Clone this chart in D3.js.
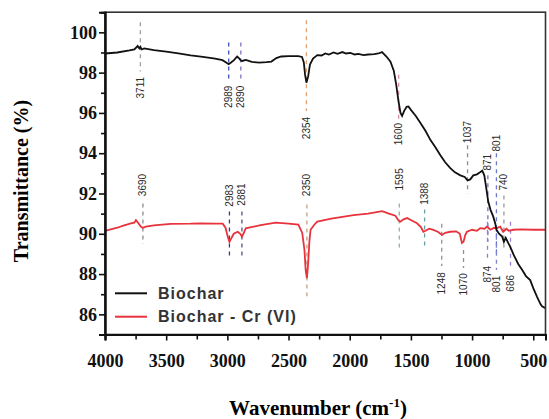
<!DOCTYPE html>
<html>
<head>
<meta charset="utf-8">
<script src="https://cdn.jsdelivr.net/npm/d3@7"></script>
<style>
  body { margin: 0; background: #fff; }
  svg { display: block; }
</style>
</head>
<body>
<script>
// FTIR spectra, wavenumber (cm-1) vs transmittance (%)
const biochar = [
  [4000, 98.95], [3900, 99.0], [3800, 99.1], [3760, 99.15], [3733, 99.32], [3720, 99.2],
  [3711, 99.28], [3700, 99.15], [3680, 99.2], [3600, 99.12], [3500, 99.04], [3400, 98.96],
  [3300, 98.86], [3200, 98.78], [3100, 98.7], [3040, 98.62], [3010, 98.5], [2989, 98.42],
  [2970, 98.5], [2946, 98.62], [2920, 98.8], [2900, 98.68], [2890, 98.6], [2878, 98.58],
  [2850, 98.63], [2800, 98.53], [2740, 98.5], [2680, 98.52], [2640, 98.55], [2600, 98.72],
  [2560, 98.8], [2500, 98.82], [2420, 98.82], [2390, 98.78], [2375, 98.5], [2365, 97.9],
  [2354, 97.5], [2340, 97.8], [2325, 98.4], [2300, 98.7], [2265, 98.87], [2230, 98.85],
  [2200, 98.95], [2170, 98.9], [2132, 99.0], [2100, 98.93], [2060, 99.02], [2030, 98.95],
  [1994, 98.98], [1960, 98.9], [1930, 98.93], [1887, 98.87], [1850, 98.9], [1800, 98.92],
  [1765, 98.95], [1736, 99.02], [1700, 98.8], [1667, 98.54], [1640, 98.1], [1620, 97.4],
  [1602, 96.6], [1585, 96.0], [1572, 95.85], [1555, 96.1], [1535, 96.3], [1520, 96.32],
  [1500, 96.15], [1460, 95.85], [1422, 95.5], [1380, 95.1], [1340, 94.65], [1300, 94.3],
  [1259, 93.9], [1220, 93.55], [1178, 93.26], [1140, 93.05], [1096, 92.9], [1060, 92.82],
  [1037, 92.65], [1015, 92.7], [990, 92.9], [960, 92.95], [935, 93.05], [917, 93.13],
  [900, 92.9], [885, 92.3], [868, 91.6], [850, 91.2], [827, 90.85], [810, 90.5],
  [801, 90.2], [780, 90.0], [754, 89.86], [740, 89.6], [725, 89.8], [705, 89.55],
  [689, 89.36], [660, 88.95], [623, 88.5], [590, 88.2], [560, 87.9], [525, 87.7],
  [500, 87.3], [468, 86.86], [440, 86.5], [428, 86.4], [400, 86.3]
];

const biocharCr = [
  [4000, 90.15], [3900, 90.3], [3850, 90.4], [3788, 90.52], [3760, 90.55], [3747, 90.68],
  [3730, 90.55], [3706, 90.35], [3690, 90.3], [3666, 90.35], [3600, 90.42], [3462, 90.49],
  [3300, 90.5], [3217, 90.52], [3100, 90.5], [3038, 90.5], [3015, 90.3], [2997, 89.86],
  [2983, 89.6], [2970, 89.75], [2948, 90.0], [2915, 90.1], [2895, 90.0], [2881, 89.86],
  [2865, 90.05], [2850, 90.27], [2728, 90.43], [2605, 90.55], [2500, 90.5], [2420, 90.45],
  [2388, 90.04], [2370, 89.2], [2360, 88.2], [2350, 87.8], [2340, 88.5], [2330, 89.6],
  [2320, 90.2], [2290, 90.45], [2265, 90.6], [2150, 90.75], [1969, 90.93], [1850, 91.0],
  [1780, 91.08], [1735, 91.12], [1680, 91.0], [1627, 90.9], [1600, 90.65], [1586, 90.6],
  [1560, 90.72], [1531, 90.78], [1490, 90.65], [1450, 90.52], [1420, 90.35], [1398, 90.1],
  [1380, 90.15], [1350, 90.25], [1317, 90.19], [1280, 90.1], [1246, 89.94], [1220, 90.05],
  [1178, 90.1], [1130, 90.12], [1100, 90.0], [1083, 89.54], [1070, 89.6], [1055, 89.95],
  [1042, 90.1], [1000, 90.2], [960, 90.15], [933, 90.28], [900, 90.25], [878, 90.35],
  [850, 90.2], [820, 90.3], [797, 90.28], [770, 90.35], [746, 90.1], [720, 90.25],
  [700, 90.15], [664, 90.2], [600, 90.22], [500, 90.2], [400, 90.2]
];

const seriesNames = ['Biochar', 'Biochar - Cr (VI)'];
const xTicks = [4000, 3500, 3000, 2500, 2000, 1500, 1000, 500];
const yTicks = [86, 88, 90, 92, 94, 96, 98, 100];

// peak markers: wavenumber, label level, dashed span (all in data units)
const biocharPeaks = [3711, 2989, 2890, 2354, 1600, 1037, 871, 801, 740];
const biocharLabelAt = [97.25, 96.8, 96.8, 95.25, 94.95, 95.05, 93.55, 94.5, 92.56];
const biocharDash = [[100.5, 98.05], [99.5, 97.6], [99.5, 97.6], [100.6, 96.1], [97.9, 95.7],
  [94.4, 92.0], [92.9, 89.6], [94.0, 89.0], [91.9, 89.3]];

const crPeaks = [3690, 2983, 2881, 2350, 1595, 1388, 1248, 1070, 874, 801, 686];
const crLabelAt = [92.42, 91.9, 91.95, 92.42, 92.7, 91.99, 87.54, 87.49, 87.99, 87.5, 87.54];
const crDash = [[91.5, 89.5], [91.1, 88.9], [91.1, 88.9], [91.45, 86.9], [91.5, 89.3],
  [91.2, 89.3], [90.5, 88.4], [89.2, 88.3], [90.6, 88.65], [90.3, 88.2], [90.6, 88.3]];

const width = 549, height = 419;
const margin = { left: 105, right: 3.5, top: 12.2, bottom: 84.5 };

const svg = d3.select('body').append('svg')
  .attr('width', width)
  .attr('height', height);

const x = d3.scaleLinear().domain([4000, 400]).range([margin.left, width - margin.right]);
const y = d3.scaleLinear().domain([85, 101]).range([height - margin.bottom, margin.top]);

const dashColorsTop = ['#9aa59a', '#4050b0', '#8a70c0', '#e0a070', '#d890a8', '#8c8c8c', '#7070c8', '#6a78d0', '#9a9a9a'];
const dashColorsBottom = ['#8c8c8c', '#30408a', '#505a80', '#c0a080', '#90b0a0', '#6aa0a0', '#909090', '#909090', '#9080d0', '#8080d0', '#a080d0'];

function drawPeaks(peaks, levels, dashes, colors) {
  const g = svg.append('g');
  peaks.forEach((wn, i) => {
    g.append('line')
      .attr('x1', x(wn)).attr('x2', x(wn))
      .attr('y1', y(dashes[i][0])).attr('y2', y(dashes[i][1]))
      .attr('stroke', colors[i])
      .attr('stroke-width', 1.3)
      .attr('stroke-dasharray', '4,4');
    g.append('text')
      .attr('transform', `translate(${x(wn) + 3.5},${y(levels[i])}) rotate(-90)`)
      .attr('text-anchor', 'middle')
      .style('font-family', 'Liberation Sans, Arial, sans-serif')
      .style('font-size', '10px')
      .style('fill', '#2a2a2a')
      .text(wn);
  });
}

drawPeaks(biocharPeaks, biocharLabelAt, biocharDash, dashColorsTop);
drawPeaks(crPeaks, crLabelAt, crDash, dashColorsBottom);

const line = d3.line().x(d => x(d[0])).y(d => y(d[1]));

svg.append('path').datum(biocharCr)
  .attr('d', line)
  .attr('fill', 'none')
  .attr('stroke', '#e8323c')
  .attr('stroke-width', 1.8);

svg.append('path').datum(biochar)
  .attr('d', line)
  .attr('fill', 'none')
  .attr('stroke', '#111')
  .attr('stroke-width', 1.8);

// frame
svg.append('rect')
  .attr('x', margin.left).attr('y', margin.top)
  .attr('width', width - margin.right - margin.left)
  .attr('height', height - margin.bottom - margin.top)
  .attr('fill', 'none')
  .attr('stroke', '#333')
  .attr('stroke-width', 1.6);

// minor ticks
const xAxisMinor = d3.axisBottom(x).tickValues(d3.range(3750, 400, -500)).tickSize(5).tickFormat('');
const yAxisMinor = d3.axisLeft(y).tickValues(d3.range(85, 101, 2)).tickSize(4).tickFormat('');
svg.append('g').attr('transform', `translate(0,${height - margin.bottom})`).call(xAxisMinor);
svg.append('g').attr('transform', `translate(${margin.left},0)`).call(yAxisMinor);

const xAxis = d3.axisBottom(x).tickValues(xTicks).tickSize(6).tickPadding(2).tickFormat(d3.format('d'));
const yAxis = d3.axisLeft(y).tickValues(yTicks).tickSize(6).tickPadding(2).tickFormat(d3.format('d'));

const gx = svg.append('g')
  .attr('class', 'axis')
  .attr('transform', `translate(0,${height - margin.bottom})`)
  .call(xAxis);
gx.selectAll('text').attr('y', 32.5).attr('dy', 0);

const gy = svg.append('g')
  .attr('class', 'axis')
  .attr('transform', `translate(${margin.left},0)`)
  .call(yAxis);

svg.selectAll('.domain').attr('stroke', '#111').attr('stroke-width', 2);
svg.selectAll('.tick line').attr('stroke', '#111').attr('stroke-width', 1.6);
svg.selectAll('.axis text')
  .style('font-family', 'Liberation Serif, Times New Roman, serif')
  .style('font-weight', 'bold')
  .style('font-size', '18px')
  .style('fill', '#111');

// axis titles
svg.append('text')
  .attr('transform', `translate(28,181) rotate(-90)`)
  .attr('text-anchor', 'middle')
  .style('font-family', 'Liberation Serif, Times New Roman, serif')
  .style('font-weight', 'bold')
  .style('font-size', '20px')
  .text('Transmittance (%)');

const xt = svg.append('text')
  .attr('x', 318).attr('y', 415)
  .attr('text-anchor', 'middle')
  .style('font-family', 'Liberation Serif, Times New Roman, serif')
  .style('font-weight', 'bold')
  .style('font-size', '21px');
xt.append('tspan').text('Wavenumber (cm');
xt.append('tspan').attr('dy', -8).style('font-size', '13px').text('-1');
xt.append('tspan').attr('dy', 8).text(')');

// legend
const legend = svg.append('g');
const legendColors = ['#111', '#e8323c'];
seriesNames.forEach((name, i) => {
  const ly = 293.3 + i * 23.4;
  legend.append('line')
    .attr('x1', 115).attr('x2', 147)
    .attr('y1', ly).attr('y2', ly)
    .attr('stroke', legendColors[i])
    .attr('stroke-width', 2);
  legend.append('text')
    .attr('x', 158).attr('y', ly + 5.5)
    .style('font-family', 'Liberation Sans, Arial, sans-serif')
    .style('font-weight', 'bold')
    .style('font-size', '16px')
    .style('letter-spacing', '1px')
    .style('fill', '#333')
    .text(name);
});
</script>
</body>
</html>
